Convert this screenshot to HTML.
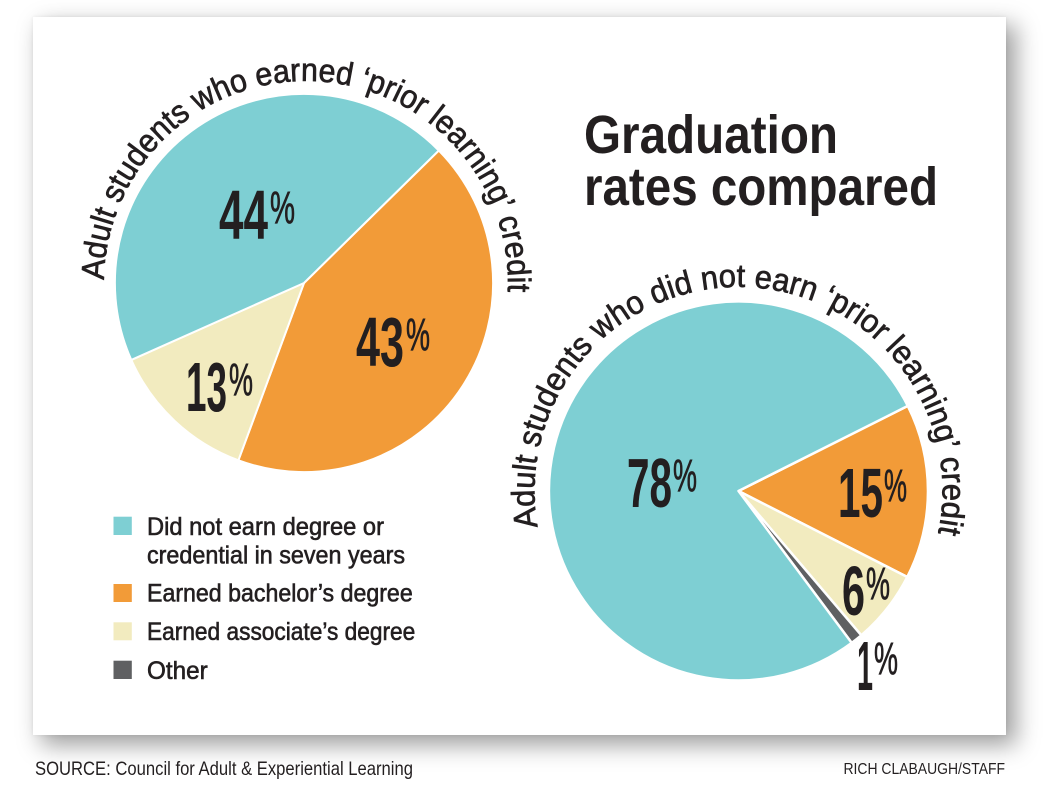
<!DOCTYPE html>
<html><head><meta charset="utf-8">
<style>
html,body{margin:0;padding:0;background:#fff;}
body{width:1056px;height:800px;position:relative;overflow:hidden;}
.card{position:absolute;left:33px;top:17px;width:973px;height:718px;background:#fff;
box-shadow:9px 9px 22px 1px rgba(0,0,0,0.38),0 0 4px rgba(0,0,0,0.07);}
svg{position:absolute;left:0;top:0;}
text{font-family:"Liberation Sans","DejaVu Sans",sans-serif;fill:#231f20;}
</style></head>
<body>
<div class="card"></div>
<svg width="1056" height="800" viewBox="0 0 1056 800" xmlns="http://www.w3.org/2000/svg">
<defs>
<path id="arcL" d="M104.0,279.8 A202,202 0 1 1 480.9,384" fill="none"/>
<path id="arcR" d="M537.7,526.8 A204,204 0 1 1 894.8,622.1" fill="none"/>
</defs>

<!-- Left pie -->
<g stroke="#fff" stroke-width="2" stroke-linejoin="round">
<path d="M304,283 L438.8,150.5 A189,189 0 0 1 238.4,460.3 Z" fill="#f29b38"/>
<path d="M304,283 L238.4,460.3 A189,189 0 0 1 131.3,359.9 Z" fill="#f2ebbf"/>
<path d="M304,283 L131.3,359.9 A189,189 0 0 1 438.8,150.5 Z" fill="#7ecfd3"/>
</g>

<!-- Right pie -->
<g stroke="#fff" stroke-width="2.5" stroke-linejoin="round">
<path d="M738.5,491 L907.8,405.9 A189.5,189.5 0 0 1 907.3,577.0 Z" fill="#f29b38"/>
<path d="M738.5,491 L907.3,577.0 A189.5,189.5 0 0 1 861.3,635.3 Z" fill="#f2ebbf"/>
<path d="M738.5,491 L861.3,635.3 A189.5,189.5 0 0 1 851.7,642.9 Z" fill="#5f6062"/>
<path d="M738.5,491 L851.7,642.9 A189.5,189.5 0 1 1 907.8,405.9 Z" fill="#7ecfd3"/>
</g>

<!-- Curved labels -->
<text font-size="32.5" stroke="#231f20" stroke-width="0.7"><textPath href="#arcL" textLength="640" lengthAdjust="spacingAndGlyphs">Adult students who earned ‘prior learning’ credit</textPath></text>
<text font-size="32.5" stroke="#231f20" stroke-width="0.7"><textPath href="#arcR" textLength="719" lengthAdjust="spacingAndGlyphs">Adult students who did not earn ‘prior learning’ credit</textPath></text>

<!-- Title -->
<text x="584" y="153" font-size="54" font-weight="bold" textLength="254" lengthAdjust="spacingAndGlyphs">Graduation</text>
<text x="584" y="205" font-size="54" font-weight="bold" textLength="354" lengthAdjust="spacingAndGlyphs">rates compared</text>

<!-- Pie value labels -->
<g font-weight="bold" font-size="70">
<text x="219" y="239" textLength="49" lengthAdjust="spacingAndGlyphs">44</text>
<text x="356" y="366" textLength="48" lengthAdjust="spacingAndGlyphs">43</text>
<text x="186" y="411" textLength="41" lengthAdjust="spacingAndGlyphs">13</text>
<text x="627" y="507" textLength="45" lengthAdjust="spacingAndGlyphs">78</text>
<text x="838" y="517" textLength="45" lengthAdjust="spacingAndGlyphs">15</text>
<text x="842" y="615" textLength="23" lengthAdjust="spacingAndGlyphs">6</text>
<text x="857" y="690" textLength="16" lengthAdjust="spacingAndGlyphs">1</text>
</g>
<g font-size="45" stroke="#231f20" stroke-width="0.8">
<text x="270" y="223" textLength="25" lengthAdjust="spacingAndGlyphs">%</text>
<text x="406" y="350" textLength="24" lengthAdjust="spacingAndGlyphs">%</text>
<text x="229" y="395" textLength="24" lengthAdjust="spacingAndGlyphs">%</text>
<text x="673" y="491" textLength="24" lengthAdjust="spacingAndGlyphs">%</text>
<text x="884" y="501" textLength="23" lengthAdjust="spacingAndGlyphs">%</text>
<text x="866" y="599" textLength="24" lengthAdjust="spacingAndGlyphs">%</text>
<text x="874" y="674" textLength="24" lengthAdjust="spacingAndGlyphs">%</text>
</g>

<!-- Legend -->
<rect x="113.5" y="516.7" width="18.3" height="18.3" fill="#7ecfd3"/>
<rect x="113.5" y="584" width="18.3" height="18" fill="#f29b38"/>
<rect x="113.5" y="622.3" width="18.3" height="18" fill="#f2ebbf"/>
<rect x="113.5" y="660.7" width="18.3" height="18.3" fill="#5f6062"/>
<g font-size="25" stroke="#231f20" stroke-width="0.6">
<text x="147" y="535" textLength="237" lengthAdjust="spacingAndGlyphs">Did not earn degree or</text>
<text x="147" y="563.3" textLength="258" lengthAdjust="spacingAndGlyphs">credential in seven years</text>
<text x="147" y="601.7" textLength="265.7" lengthAdjust="spacingAndGlyphs">Earned bachelor’s degree</text>
<text x="147" y="640" textLength="268.3" lengthAdjust="spacingAndGlyphs">Earned associate’s degree</text>
<text x="147" y="679" textLength="60.7" lengthAdjust="spacingAndGlyphs">Other</text>
</g>

<!-- Footer -->
<text x="35" y="775" font-size="19.5" textLength="378" lengthAdjust="spacingAndGlyphs">SOURCE: Council for Adult &amp; Experiential Learning</text>
<text x="843.5" y="774" font-size="16" textLength="161.5" lengthAdjust="spacingAndGlyphs">RICH CLABAUGH/STAFF</text>
</svg>
</body></html>
